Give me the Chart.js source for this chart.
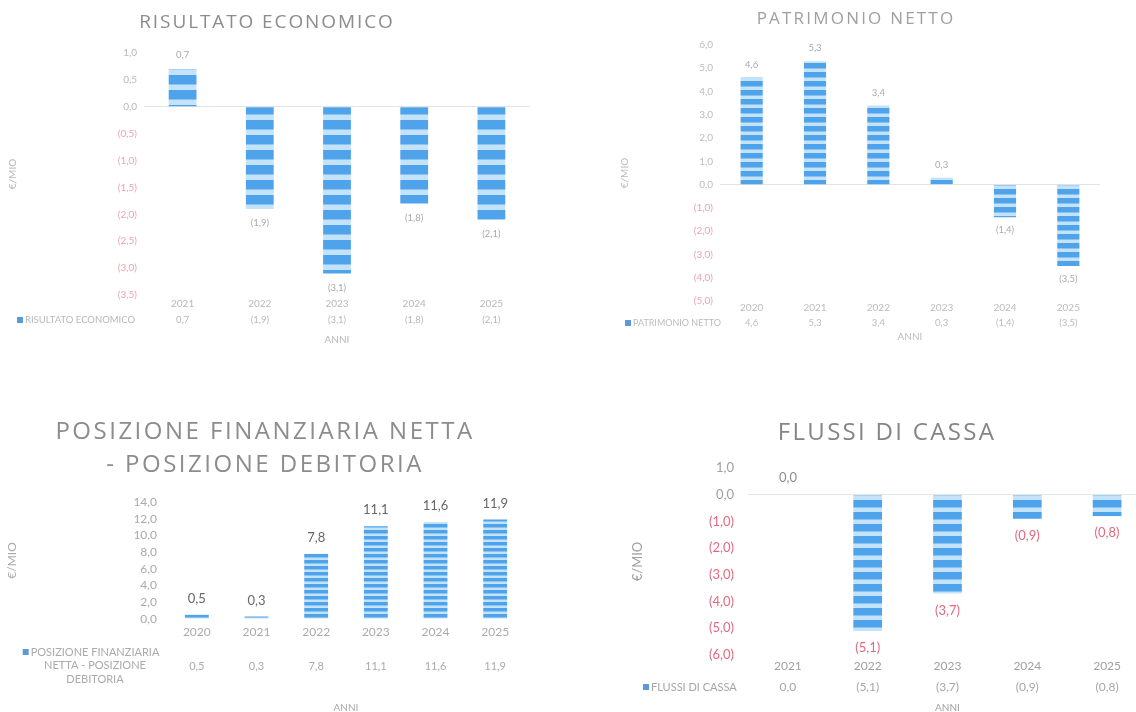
<!DOCTYPE html>
<html lang="it">
<head>
<meta charset="utf-8">
<title>Indicatori economici</title>
<script src="https://cdn.jsdelivr.net/npm/chart.js@4.4.1/dist/chart.umd.min.js"></script>
<style>
  html, body { margin: 0; padding: 0; background: #fff; overflow: hidden; }
  body { width: 1136px; height: 712px; position: relative; font-family: Lato, sans-serif; }
  .box { position: absolute; }
  .box canvas { display: block; }
  .title {
    position: absolute;
    transform: translateX(-50%);
    text-align: center;
    white-space: nowrap;
    font-family: "Open Sans", sans-serif;
    line-height: 1;
    color: #8c8c8c;
  }
</style>
</head>
<body>

<div class="box" style="left:0;top:0"><canvas id="chartRisultato" width="568" height="356"></canvas></div>
<div class="box" style="left:568px;top:0"><canvas id="chartPatrimonio" width="568" height="356"></canvas></div>
<div class="box" style="left:0;top:356px"><canvas id="chartPfn" width="568" height="360"></canvas></div>
<div class="box" style="left:568px;top:356px"><canvas id="chartFlussi" width="590" height="360"></canvas></div>

<div class="title" style="left:267px;top:12px;font-size:19px;letter-spacing:1.9px">RISULTATO ECONOMICO</div>
<div class="title" style="left:856px;top:9px;font-size:17px;letter-spacing:2.2px;color:#a0a0a0">PATRIMONIO NETTO</div>
<div class="title" style="left:265px;top:413px;font-size:24px;line-height:33px;letter-spacing:2.5px">POSIZIONE FINANZIARIA NETTA<br>- POSIZIONE DEBITORIA</div>
<div class="title" style="left:887px;top:419px;font-size:24px;letter-spacing:2.3px;color:#858585">FLUSSI DI CASSA</div>

<script>
// Dati (valori in milioni di euro)
const yearsRisultato = ['2021', '2022', '2023', '2024', '2025'];
const valuesRisultato = [0.7, -1.9, -3.1, -1.8, -2.1];
const ticksRisultato = [1.0, 0.5, 0.0, -0.5, -1.0, -1.5, -2.0, -2.5, -3.0, -3.5];

const yearsPatrimonio = ['2020', '2021', '2022', '2023', '2024', '2025'];
const valuesPatrimonio = [4.6, 5.3, 3.4, 0.3, -1.4, -3.5];
const ticksPatrimonio = [6, 5, 4, 3, 2, 1, 0, -1, -2, -3, -4, -5];

const yearsPfn = ['2020', '2021', '2022', '2023', '2024', '2025'];
const valuesPfn = [0.5, 0.3, 7.8, 11.1, 11.6, 11.9];
const ticksPfn = [14, 12, 10, 8, 6, 4, 2, 0];

const yearsFlussi = ['2021', '2022', '2023', '2024', '2025'];
const valuesFlussi = [0.0, -5.1, -3.7, -0.9, -0.8];
const ticksFlussi = [1, 0, -1, -2, -3, -4, -5, -6];

Chart.defaults.font.family = 'Lato, sans-serif';

// 1,5 -> "1,5" ; -1,5 -> "(1,5)"
function fmt(v) {
    const s = Math.abs(v).toFixed(1).replace('.', ',');
    return v < 0 ? '(' + s + ')' : s;
}

// striped blue fill like the original bars
function stripes(period) {
    const c = document.createElement('canvas');
    c.width = 4;
    c.height = period;
    const g = c.getContext('2d');
    const band = Math.max(2, Math.round(period * 0.3));
    g.fillStyle = '#4fa3ea';
    g.fillRect(0, 0, 4, period);
    g.fillStyle = '#88c3f2';
    g.fillRect(0, period - band - 1, 4, 1);
    g.fillStyle = '#c4e2f9';
    g.fillRect(0, period - band, 4, band);
    return g.createPattern(c, 'repeat');
}

// value above / below each bar
const barLabels = {
    id: 'barLabels',
    afterDatasetsDraw(chart, args, o) {
        const { ctx } = chart;
        const values = chart.data.datasets[0].data;
        ctx.save();
        ctx.font = o.size + 'px Lato';
        ctx.textAlign = 'center';
        ctx.textBaseline = 'middle';
        chart.getDatasetMeta(0).data.forEach((bar, i) => {
            const v = values[i];
            ctx.fillStyle = v < 0 ? o.neg : o.pos;
            ctx.fillText(fmt(v), bar.x, v < 0 ? bar.y + o.gap : bar.y - o.gap);
        });
        ctx.restore();
    }
};

// Excel-like data table under the axis
const dataTable = {
    id: 'dataTable',
    afterDraw(chart, args, o) {
        const { ctx, chartArea, scales: { x } } = chart;
        const ds = chart.data.datasets[0];
        ctx.save();
        ctx.textBaseline = 'middle';
        ctx.font = o.size + 'px Lato';
        ctx.fillStyle = o.color;
        ctx.textAlign = 'center';
        ds.data.forEach((v, i) => {
            ctx.fillText(fmt(v), x.getPixelForValue(i), chartArea.bottom + o.row);
        });

        const lines = o.lines || [ds.label];
        ctx.font = o.legendSize + 'px Lato';
        ctx.textAlign = o.center ? 'center' : 'left';
        lines.forEach((t, j) => ctx.fillText(t, o.x, chartArea.bottom + o.legendY[j]));

        let left = o.x;
        if (o.center) left = o.x - ctx.measureText(lines[0]).width / 2;
        ctx.fillStyle = '#5b9bd5';
        ctx.fillRect(left - 8, chartArea.bottom + o.legendY[0] - 3, 6, 6);
        ctx.restore();
    }
};

function barChart(id, c) {
    return new Chart(document.getElementById(id), {
        type: 'bar',
        data: {
            labels: c.labels,
            datasets: [{
                label: c.name,
                data: c.values,
                backgroundColor: stripes(c.stripe),
                barPercentage: c.bar,
                categoryPercentage: 1
            }]
        },
        options: {
            responsive: false,
            animation: false,
            events: [],
            layout: { padding: c.padding },
            plugins: {
                legend: { display: false },
                tooltip: { enabled: false },
                barLabels: c.labels2,
                dataTable: c.table
            },
            scales: {
                x: {
                    grid: { display: false, drawTicks: false },
                    border: { display: false },
                    ticks: { color: c.textColor, font: { size: c.xSize }, padding: c.xPad, maxRotation: 0, autoSkip: false },
                    title: { display: true, text: 'ANNI', color: c.textColor, font: { size: 10 }, padding: 0 },
                    afterFit: s => { s.height = c.xHeight; }
                },
                y: {
                    min: Math.min(...c.ticks),
                    max: Math.max(...c.ticks),
                    afterBuildTicks: s => { s.ticks = c.ticks.map(v => ({ value: v })); },
                    grid: {
                        drawTicks: false,
                        color: ctx => ctx.tick.value === 0 ? c.zero : 'rgba(0,0,0,0)'
                    },
                    border: { display: false },
                    ticks: {
                        autoSkip: false,
                        callback: v => fmt(v),
                        color: ctx => ctx.tick.value < 0 ? c.negColor : c.tickColor,
                        font: { size: c.ySize },
                        padding: c.yPad
                    },
                    title: { display: true, text: '€/MIO', color: c.textColor, font: { size: c.ySize }, padding: { top: c.yTitlePad, bottom: 0 } },
                    afterFit: s => { s.width = c.yWidth; }
                }
            }
        },
        plugins: [barLabels, dataTable]
    });
}

barChart('chartRisultato', {
    labels: yearsRisultato, values: valuesRisultato, ticks: ticksRisultato,
    name: 'RISULTATO ECONOMICO',
    padding: { left: 4, right: 38, top: 53, bottom: 10 },
    yWidth: 140, xHeight: 51, yTitlePad: 3,
    xSize: 10, xPad: 3, ySize: 10, yPad: 7,
    bar: 0.36, stripe: 15,
    textColor: '#b8b8b8', tickColor: '#b8b8b8', negColor: '#eaa5ae', zero: '#e3e3e3',
    labels2: { size: 9.5, gap: 14, pos: '#aaaaaa', neg: '#aaaaaa' },
    table: { size: 9.5, color: '#b8b8b8', row: 25, x: 25, legendY: [25], legendSize: 9.5 }
});

barChart('chartPatrimonio', {
    labels: yearsPatrimonio, values: valuesPatrimonio, ticks: ticksPatrimonio,
    name: 'PATRIMONIO NETTO',
    padding: { left: 4, right: 36, top: 45, bottom: 13 },
    yWidth: 148, xHeight: 42, yTitlePad: 47,
    xSize: 10, xPad: 1, ySize: 10, yPad: 7,
    bar: 0.35, stripe: 9,
    textColor: '#bcbcbc', tickColor: '#bcbcbc', negColor: '#eaa5ae', zero: '#e3e3e3',
    labels2: { size: 9.5, gap: 13, pos: '#aaaaaa', neg: '#aaaaaa' },
    table: { size: 9.5, color: '#bcbcbc', row: 22, x: 65, legendY: [22], legendSize: 9 }
});

barChart('chartPfn', {
    labels: yearsPfn, values: valuesPfn, ticks: ticksPfn,
    name: 'POSIZIONE FINANZIARIA NETTA - POSIZIONE DEBITORIA',
    padding: { left: 0, right: 43, top: 146, bottom: 2 },
    yWidth: 167, xHeight: 95, yTitlePad: 5,
    xSize: 12, xPad: 6, ySize: 12, yPad: 10,
    bar: 0.4, stripe: 6,
    textColor: '#aaaaaa', tickColor: '#aaaaaa', negColor: '#eaa5ae', zero: 'rgba(0,0,0,0)',
    labels2: { size: 13, gap: 16, pos: '#666666', neg: '#666666' },
    table: {
        size: 11, color: '#aaaaaa', row: 47, x: 95, center: true,
        lines: ['POSIZIONE FINANZIARIA', 'NETTA - POSIZIONE', 'DEBITORIA'],
        legendY: [33, 46, 60], legendSize: 11
    }
});

barChart('chartFlussi', {
    labels: yearsFlussi, values: valuesFlussi, ticks: ticksFlussi,
    name: 'FLUSSI DI CASSA',
    padding: { left: 0, right: 11, top: 112, bottom: 2 },
    yWidth: 180, xHeight: 59, yTitlePad: 62,
    xSize: 12, xPad: 4, ySize: 13, yPad: 14,
    bar: 0.36, stripe: 12,
    textColor: '#a0a0a0', tickColor: '#a0a0a0', negColor: '#e3687f', zero: '#e6e6e6',
    labels2: { size: 13, gap: 17, pos: '#8c8c8c', neg: '#e3687f' },
    table: { size: 12, color: '#a6a6a6', row: 32, x: 83, legendY: [32], legendSize: 11 }
});
</script>
</body>
</html>
